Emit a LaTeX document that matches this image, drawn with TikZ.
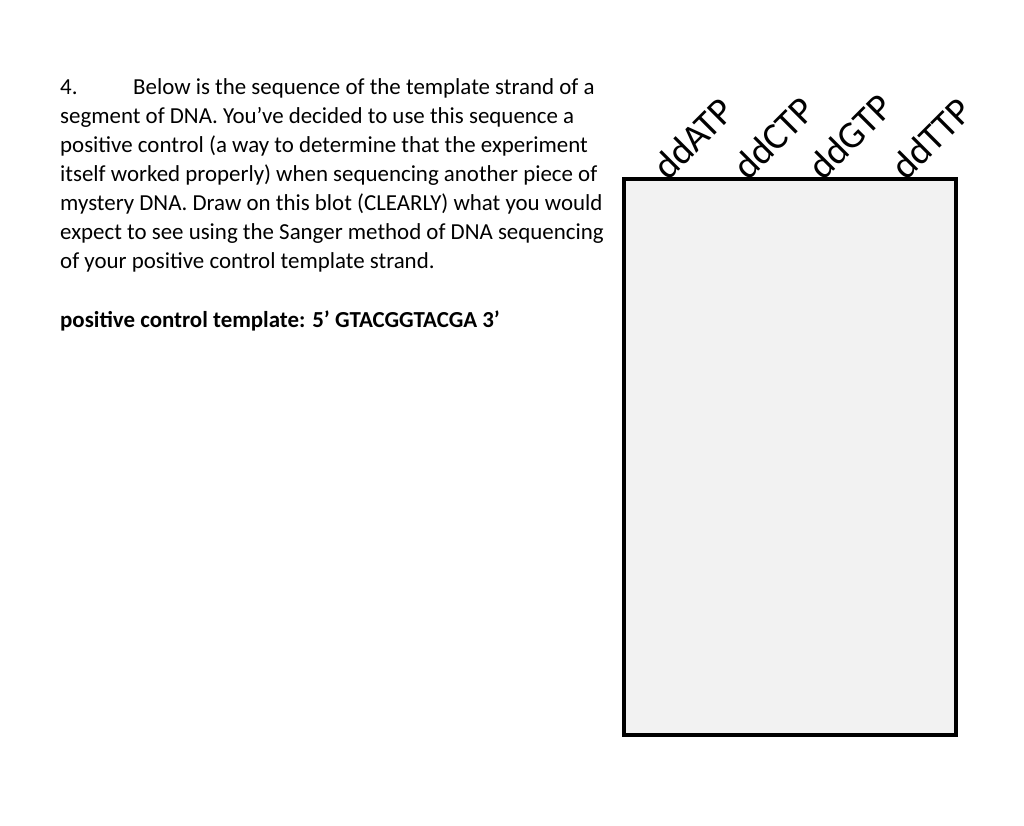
\documentclass[tikz,border=0pt]{standalone}
\usepackage{fontspec}
\setmainfont{Carlito}
\begin{document}
\begin{tikzpicture}[x=1pt,y=-1pt,
  txt/.style={anchor=base west,inner sep=0pt,font=\fontsize{22.9}{26}\selectfont},
  lab/.style={anchor=base west,inner sep=0pt,rotate=45,font=\fontsize{38}{40}\selectfont}]
\useasboundingbox (0,0) rectangle (1024,825);
\node[txt] (n4) at (60,94) {4.};
\node[txt] (l1) at (133,94) {Below is the sequence of the template strand of a};
\node[txt] (l2) at (60,123) {segment of DNA. You’ve decided to use this sequence a};
\node[txt] (l3) at (60,152) {positive control (a way to determine that the experiment};
\node[txt] (l4) at (60,181) {itself worked properly) when sequencing another piece of};
\node[txt] (l5) at (60,210) {mystery DNA. Draw on this blot (CLEARLY) what you would};
\node[txt] (l6) at (60,239) {expect to see using the Sanger method of DNA sequencing};
\node[txt] (l7) at (60,268) {of your positive control template strand.};
\node[txt,font=\fontsize{22.9}{26}\selectfont\bfseries] (pc) at (60,327) {positive control template: 5’ GTACGGTACGA 3’};
\draw[line width=4pt,fill={rgb,255:red,242;green,242;blue,242}] (624,179) rectangle (956,735);
\node[lab] (a) at (668,182) {ddATP};
\node[lab] (c) at (748,182) {ddCTP};
\node[lab] (g) at (823,182) {ddGTP};
\node[lab] (t) at (906,182) {ddTTP};
\end{tikzpicture}
\end{document}
